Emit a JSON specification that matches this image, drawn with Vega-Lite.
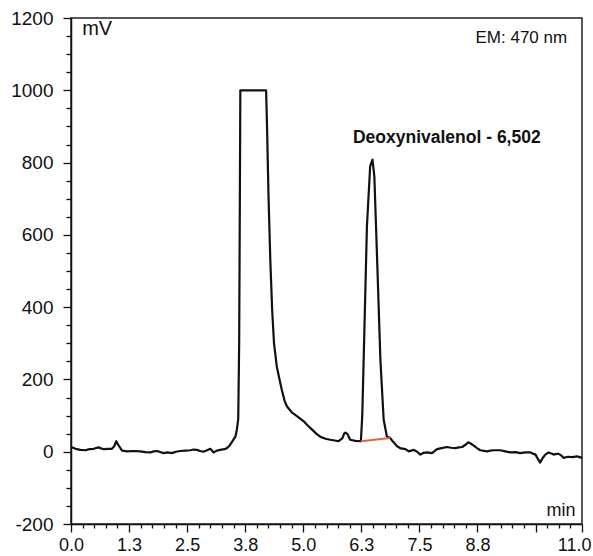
{
  "$schema": "https://vega.github.io/schema/vega-lite/v6.json",
  "autosize": "none",
  "width": 511,
  "height": 506,
  "padding": {"left": 71, "top": 18, "right": 11, "bottom": 32},
  "background": "white",
  "config": {
    "view": {"stroke": "#222", "strokeWidth": 1.5},
    "font": "Liberation Sans",
    "axis": {
      "grid": false,
      "domainColor": "#111",
      "domainWidth": 1.5,
      "tickColor": "#111",
      "tickWidth": 1.3,
      "labelColor": "#111",
      "labelFont": "Liberation Sans",
      "labelFontSize": 18,
      "labelOverlap": false,
      "title": null
    }
  },
  "resolve": {"axis": {"x": "independent", "y": "independent"}},
  "layer": [
    {
      "data": {
        "values": [
          {"t": 0.00, "mv": 13}, {"t": 0.10, "mv": 8}, {"t": 0.20, "mv": 5}, {"t": 0.31, "mv": 4},
          {"t": 0.40, "mv": 7}, {"t": 0.49, "mv": 8}, {"t": 0.59, "mv": 12}, {"t": 0.70, "mv": 7},
          {"t": 0.80, "mv": 8}, {"t": 0.88, "mv": 8}, {"t": 0.93, "mv": 15}, {"t": 0.975, "mv": 29},
          {"t": 1.02, "mv": 18}, {"t": 1.10, "mv": 3}, {"t": 1.21, "mv": 1}, {"t": 1.35, "mv": 2},
          {"t": 1.49, "mv": 1}, {"t": 1.60, "mv": -1}, {"t": 1.71, "mv": -2}, {"t": 1.78, "mv": 1},
          {"t": 1.85, "mv": 2}, {"t": 1.92, "mv": -1}, {"t": 1.99, "mv": -4}, {"t": 2.08, "mv": -2},
          {"t": 2.17, "mv": -4}, {"t": 2.26, "mv": 0}, {"t": 2.35, "mv": 2}, {"t": 2.46, "mv": 3},
          {"t": 2.57, "mv": 4}, {"t": 2.64, "mv": 6}, {"t": 2.71, "mv": 5}, {"t": 2.78, "mv": 2},
          {"t": 2.85, "mv": 0}, {"t": 2.93, "mv": 4}, {"t": 3.00, "mv": 8}, {"t": 3.07, "mv": -2},
          {"t": 3.14, "mv": 3}, {"t": 3.21, "mv": 5}, {"t": 3.30, "mv": 7}, {"t": 3.36, "mv": 10},
          {"t": 3.42, "mv": 18}, {"t": 3.47, "mv": 28}, {"t": 3.51, "mv": 36}, {"t": 3.54, "mv": 42},
          {"t": 3.57, "mv": 61}, {"t": 3.60, "mv": 90}, {"t": 3.62, "mv": 300}, {"t": 3.635, "mv": 700},
          {"t": 3.645, "mv": 1000}, {"t": 4.20, "mv": 1000}, {"t": 4.22, "mv": 900}, {"t": 4.25, "mv": 716},
          {"t": 4.29, "mv": 531}, {"t": 4.33, "mv": 393}, {"t": 4.37, "mv": 300}, {"t": 4.43, "mv": 236},
          {"t": 4.49, "mv": 199}, {"t": 4.54, "mv": 170}, {"t": 4.60, "mv": 140}, {"t": 4.65, "mv": 125},
          {"t": 4.76, "mv": 108}, {"t": 4.87, "mv": 98}, {"t": 5.01, "mv": 84}, {"t": 5.10, "mv": 72},
          {"t": 5.19, "mv": 61}, {"t": 5.28, "mv": 50}, {"t": 5.37, "mv": 41}, {"t": 5.48, "mv": 36},
          {"t": 5.58, "mv": 33}, {"t": 5.68, "mv": 31}, {"t": 5.76, "mv": 29}, {"t": 5.84, "mv": 37},
          {"t": 5.88, "mv": 50}, {"t": 5.91, "mv": 53}, {"t": 5.95, "mv": 49}, {"t": 6.01, "mv": 33},
          {"t": 6.12, "mv": 30}, {"t": 6.24, "mv": 29}, {"t": 6.27, "mv": 100}, {"t": 6.30, "mv": 255},
          {"t": 6.37, "mv": 623}, {"t": 6.44, "mv": 790}, {"t": 6.49, "mv": 808}, {"t": 6.53, "mv": 762},
          {"t": 6.59, "mv": 531}, {"t": 6.66, "mv": 255}, {"t": 6.73, "mv": 89}, {"t": 6.80, "mv": 42},
          {"t": 6.87, "mv": 38}, {"t": 6.93, "mv": 28}, {"t": 7.02, "mv": 15}, {"t": 7.10, "mv": 9},
          {"t": 7.20, "mv": 7}, {"t": 7.27, "mv": 1}, {"t": 7.38, "mv": 5}, {"t": 7.45, "mv": 0},
          {"t": 7.52, "mv": -8}, {"t": 7.59, "mv": -3}, {"t": 7.66, "mv": -2}, {"t": 7.77, "mv": -4},
          {"t": 7.88, "mv": 7}, {"t": 7.98, "mv": 10}, {"t": 8.09, "mv": 13}, {"t": 8.18, "mv": 11},
          {"t": 8.27, "mv": 10}, {"t": 8.35, "mv": 12}, {"t": 8.42, "mv": 13}, {"t": 8.50, "mv": 20},
          {"t": 8.55, "mv": 26}, {"t": 8.61, "mv": 22}, {"t": 8.67, "mv": 17}, {"t": 8.74, "mv": 10},
          {"t": 8.81, "mv": 4}, {"t": 8.96, "mv": 1}, {"t": 9.03, "mv": 3}, {"t": 9.10, "mv": 4},
          {"t": 9.24, "mv": 4}, {"t": 9.35, "mv": 1}, {"t": 9.46, "mv": -2}, {"t": 9.57, "mv": -1},
          {"t": 9.67, "mv": -4}, {"t": 9.78, "mv": -2}, {"t": 9.89, "mv": -2}, {"t": 9.96, "mv": -6},
          {"t": 10.00, "mv": -8}, {"t": 10.05, "mv": -20}, {"t": 10.10, "mv": -30}, {"t": 10.15, "mv": -18},
          {"t": 10.21, "mv": -8}, {"t": 10.28, "mv": -2}, {"t": 10.34, "mv": -5}, {"t": 10.39, "mv": -8},
          {"t": 10.45, "mv": -6}, {"t": 10.50, "mv": -6}, {"t": 10.55, "mv": -10}, {"t": 10.60, "mv": -17},
          {"t": 10.70, "mv": -14}, {"t": 10.79, "mv": -15}, {"t": 10.89, "mv": -13}, {"t": 10.95, "mv": -15},
          {"t": 11.00, "mv": -17}
        ]
      },
      "mark": {"type": "line", "color": "#111", "strokeWidth": 2.2, "strokeJoin": "round"},
      "encoding": {
        "x": {
          "field": "t", "type": "quantitative",
          "scale": {"domain": [0, 11], "nice": false, "zero": false},
          "axis": {
            "orient": "bottom",
            "values": [0, 1.25, 2.5, 3.75, 5, 6.25, 7.5, 8.75, 10],
            "labelExpr": "datum.value == 10 ? '' : format(datum.value, '.1f')",
            "tickSize": 8,
            "labelPadding": 4,
            "labelFlush": false
          }
        },
        "y": {
          "field": "mv", "type": "quantitative",
          "scale": {"domain": [-200, 1200], "nice": false, "zero": false},
          "axis": {
            "orient": "left",
            "values": [-200, 0, 200, 400, 600, 800, 1000, 1200],
            "labelExpr": "'' + datum.value",
            "labelFontSize": 19,
            "tickSize": 8,
            "labelPadding": 10,
            "labelFlush": false
          }
        }
      }
    },
    {
      "data": {"values": [{"t": 6.24, "mv": 29}, {"t": 6.87, "mv": 38}]},
      "mark": {"type": "line", "color": "#e8603c", "strokeWidth": 2},
      "encoding": {
        "x": {
          "field": "t", "type": "quantitative",
          "axis": {
            "orient": "bottom",
            "values": [0.25, 0.5, 0.75, 1, 1.5, 1.75, 2, 2.25, 2.75, 3, 3.25, 3.5, 4, 4.25, 4.5, 4.75, 5.25, 5.5, 5.75, 6, 6.5, 6.75, 7, 7.25, 7.75, 8, 8.25, 8.5, 9, 9.25, 9.5, 9.75, 10.25, 10.5, 10.75],
            "labels": false,
            "domain": false,
            "tickSize": 4
          }
        },
        "y": {
          "field": "mv", "type": "quantitative",
          "axis": {
            "orient": "left",
            "values": [-150, -100, -50, 50, 100, 150, 250, 300, 350, 450, 500, 550, 650, 700, 750, 850, 900, 950, 1050, 1100, 1150],
            "labels": false,
            "domain": false,
            "tickSize": 5
          }
        }
      }
    },
    {
      "data": {"values": [{"t": 10.86, "mv": -179, "label": "min"}]},
      "mark": {"type": "text", "align": "right", "baseline": "alphabetic", "fontSize": 18, "color": "#111"},
      "encoding": {
        "x": {
          "field": "t", "type": "quantitative",
          "axis": {
            "orient": "bottom",
            "values": [11],
            "format": ".1f",
            "domain": false,
            "tickSize": 8,
            "labelPadding": 4,
            "labelFlush": true,
            "labelFlushOffset": 9
          }
        },
        "y": {"field": "mv", "type": "quantitative", "axis": null},
        "text": {"field": "label"}
      }
    },
    {
      "data": {"values": [{"t": 0.24, "mv": 1154, "label": "mV"}]},
      "mark": {"type": "text", "align": "left", "baseline": "alphabetic", "fontSize": 20, "color": "#111"},
      "encoding": {
        "x": {"field": "t", "type": "quantitative", "axis": null},
        "y": {"field": "mv", "type": "quantitative", "axis": null},
        "text": {"field": "label"}
      }
    },
    {
      "data": {"values": [{"t": 10.68, "mv": 1132, "label": "EM: 470 nm"}]},
      "mark": {"type": "text", "align": "right", "baseline": "alphabetic", "fontSize": 17, "color": "#111"},
      "encoding": {
        "x": {"field": "t", "type": "quantitative", "axis": null},
        "y": {"field": "mv", "type": "quantitative", "axis": null},
        "text": {"field": "label"}
      }
    },
    {
      "data": {"values": [{"t": 8.09, "mv": 855, "label": "Deoxynivalenol - 6,502"}]},
      "mark": {"type": "text", "align": "center", "baseline": "alphabetic", "fontSize": 17.5, "fontWeight": "bold", "color": "#111"},
      "encoding": {
        "x": {"field": "t", "type": "quantitative", "axis": null},
        "y": {"field": "mv", "type": "quantitative", "axis": null},
        "text": {"field": "label"}
      }
    }
  ]
}
